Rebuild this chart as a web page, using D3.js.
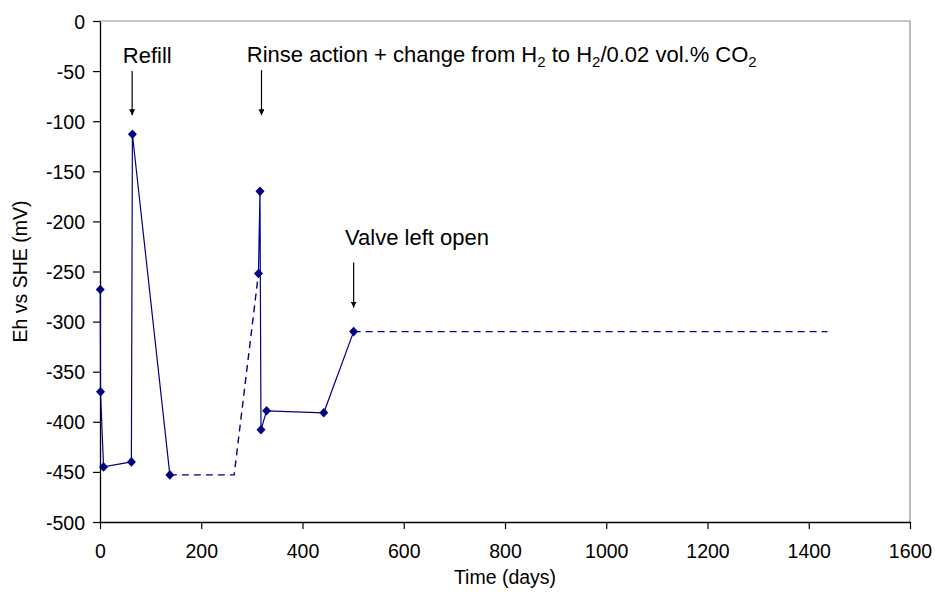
<!DOCTYPE html>
<html>
<head>
<meta charset="utf-8">
<script src="https://cdn.jsdelivr.net/npm/d3@7"></script>
<style>
  html, body { margin: 0; padding: 0; background: #fff; }
  svg { display: block; font-family: "Liberation Sans", Arial, sans-serif; }
</style>
</head>
<body>
<svg id="chart" width="935" height="592"></svg>
<script>
// Measured redox potential (Eh vs SHE, mV) against time (days)
const runA_days = [0.5, 1, 7, 62, 64, 138];
const runA_eh   = [-268, -370, -445, -440, -113, -453];
const runB_days = [313, 316, 318, 329, 442, 501];
const runB_eh   = [-252, -170, -408, -389, -391, -310];

// Unmeasured intervals, drawn dashed
const gap1_days = [138, 265, 313];
const gap1_eh   = [-453, -453, -252];
const gap2_days = [501, 1437];
const gap2_eh   = [-310, -310];

const xTicks = [0, 200, 400, 600, 800, 1000, 1200, 1400, 1600];
const yTicks = [0, -50, -100, -150, -200, -250, -300, -350, -400, -450, -500];

// Event annotations: label, label anchor (day, mV), arrow x (day), arrow from/to (mV)
const noteText  = ["Refill", "Rinse", "Valve left open"];
const noteDay   = [45, 290, 484];
const noteEh    = [-42, -41, -224];
const arrowDay  = [63.5, 319, 501];
const arrowFrom = [-50, -49, -241];
const arrowTo   = [-94, -94, -286];

const svg = d3.select("#chart");
const m = { left: 100, right: 910, top: 21, bottom: 522 };
const navy = "#000080";
const fmt = d => String(d);   // plain hyphen-minus for negatives

const x = d3.scaleLinear().domain([0, 1600]).range([m.left, m.right]);
const y = d3.scaleLinear().domain([-500, 0]).range([m.bottom, m.top]);

// Plot area border (top and right in grey)
svg.append("path")
  .attr("d", `M${m.left},${m.top}H${m.right}V${m.bottom}`)
  .attr("fill", "none").attr("stroke", "#8c8c8c").attr("stroke-width", 1.2);

// Axes
const xAxis = svg.append("g").attr("transform", `translate(0,${m.bottom})`)
  .call(d3.axisBottom(x).tickValues(xTicks).tickSizeOuter(0).tickSizeInner(7).tickPadding(15).tickFormat(fmt));
const yAxis = svg.append("g").attr("transform", `translate(${m.left},0)`)
  .call(d3.axisLeft(y).tickValues(yTicks).tickSizeOuter(0).tickSizeInner(7).tickPadding(8).tickFormat(fmt));
[xAxis, yAxis].forEach(g => {
  g.select(".domain").attr("stroke", "#000").attr("stroke-width", 1.3);
  g.selectAll(".tick line").attr("stroke", "#000").attr("stroke-width", 1.2);
  g.selectAll(".tick text").attr("fill", "#000").style("font-size", "19.5px")
    .style("font-family", "'Liberation Sans', Arial, sans-serif");
});
yAxis.selectAll(".tick text").attr("dy", "0.36em");

// Axis titles
svg.append("text").attr("x", (m.left + m.right) / 2).attr("y", 584)
  .attr("text-anchor", "middle").style("font-size", "19.5px").text("Time (days)");
svg.append("text")
  .attr("transform", `translate(27,${(m.top + m.bottom) / 2}) rotate(-90)`)
  .attr("text-anchor", "middle").style("font-size", "19.5px").text("Eh vs SHE (mV)");

const line = d3.line().x(d => x(d[0])).y(d => y(d[1]));
const zip = (a, b) => a.map((v, i) => [v, b[i]]);

// Dashed gaps
[[gap1_days, gap1_eh], [gap2_days, gap2_eh]].forEach(([dx, dy]) => {
  svg.append("path").attr("d", line(zip(dx, dy)))
    .attr("fill", "none").attr("stroke", navy).attr("stroke-width", 1.4)
    .attr("stroke-dasharray", "7,5");
});

// Measured series
[[runA_days, runA_eh], [runB_days, runB_eh]].forEach(([dx, dy]) => {
  const pts = zip(dx, dy);
  svg.append("path").attr("d", line(pts))
    .attr("fill", "none").attr("stroke", navy).attr("stroke-width", 1.2);
  svg.append("g").selectAll("path").data(pts).join("path")
    .attr("transform", d => `translate(${x(d[0])},${y(d[1])})`)
    .attr("d", "M0,-4.8L4.5,0L0,4.8L-4.5,0Z")
    .attr("fill", navy);
});

// Arrows
const defs = svg.append("defs");
defs.append("marker").attr("id", "head").attr("viewBox", "0 0 10 10")
  .attr("refX", 10).attr("refY", 5).attr("markerWidth", 6).attr("markerHeight", 6)
  .attr("markerUnits", "userSpaceOnUse").attr("orient", "auto")
  .append("path").attr("d", "M0,0L10,5L0,10Z").attr("fill", "#000");
arrowDay.forEach((d, i) => {
  svg.append("line")
    .attr("x1", x(d)).attr("x2", x(d))
    .attr("y1", y(arrowFrom[i])).attr("y2", y(arrowTo[i]))
    .attr("stroke", "#000").attr("stroke-width", 1.2)
    .attr("marker-end", "url(#head)");
});

// Annotation labels
noteText.forEach((t, i) => {
  const txt = svg.append("text").attr("x", x(noteDay[i])).attr("y", y(noteEh[i]))
    .style("font-size", "22px").attr("fill", "#000");
  if (t === "Rinse") {
    txt.append("tspan").text("Rinse action + change from H");
    txt.append("tspan").attr("dy", 5).style("font-size", "15px").text("2");
    txt.append("tspan").attr("dy", -5).text(" to H");
    txt.append("tspan").attr("dy", 5).style("font-size", "15px").text("2");
    txt.append("tspan").attr("dy", -5).text("/0.02 vol.% CO");
    txt.append("tspan").attr("dy", 5).style("font-size", "15px").text("2");
  } else {
    txt.text(t);
  }
});
</script>
</body>
</html>
